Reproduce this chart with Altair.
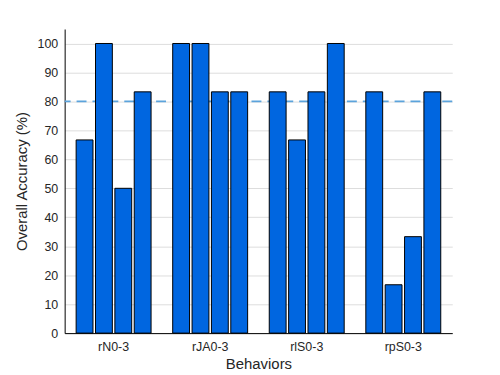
import altair as alt
import pandas as pd

groups = ["rN0-3", "rJA0-3", "rlS0-3", "rpS0-3"]
subjects = ["S0", "S1", "S2", "S3"]
values = [
    [66.7, 100, 50, 83.3],
    [100, 100, 83.3, 83.3],
    [83.3, 66.7, 83.3, 100],
    [83.3, 16.7, 33.3, 83.3],
]
threshold = [80]
yticks = [0, 10, 20, 30, 40, 50, 60, 70, 80, 90, 100]

rows = []
for g, vals in zip(groups, values):
    for s, v in zip(subjects, vals):
        rows.append({"Behavior": g, "Subject": s, "Accuracy": v})
df = pd.DataFrame(rows)

font = "Liberation Sans"
txt = "#262626"

yscale = alt.Scale(domain=[0, 105], nice=False)
yaxis = alt.Axis(title="Overall Accuracy (%)", values=yticks,
                 ticks=False, domainColor="black", gridColor="#dddddd",
                 labelFont=font, titleFont=font, labelFontSize=12.5, titleFontSize=15,
                 labelColor=txt, titleColor=txt, titleFontWeight="normal",
                 labelPadding=7, titlePadding=8, labelOverlap=False)
xaxis = alt.Axis(title="Behaviors", labelAngle=0, ticks=False, domainColor="black",
                 labelFont=font, titleFont=font, labelFontSize=12.5, titleFontSize=15,
                 labelColor=txt, titleColor=txt, titleFontWeight="normal",
                 labelPadding=7, titlePadding=4, grid=False)

bars = alt.Chart(df).mark_bar(color="#0066E0", stroke="black", strokeWidth=1).encode(
    x=alt.X("Behavior:N", sort=groups,
            scale=alt.Scale(paddingInner=0.224, paddingOuter=0.119),
            axis=xaxis),
    xOffset=alt.XOffset("Subject:N", scale=alt.Scale(paddingInner=0.13, paddingOuter=0.0)),
    y=alt.Y("Accuracy:Q", scale=yscale, axis=yaxis),
)

rule = alt.Chart(pd.DataFrame({"Accuracy": threshold})).mark_rule(
    color="#5BA3DC", strokeDash=[10, 6], strokeWidth=1.6
).encode(y=alt.Y("Accuracy:Q", scale=yscale, axis=yaxis))

chart = alt.layer(rule, bars).properties(
    width=390, height=306,
    background="white",
    autosize=alt.AutoSizeParams(type="none"),
    padding={"left": 57, "top": 20, "right": 40, "bottom": 40},
).configure_view(stroke=None)

chart.save("out.html", embed_options={"renderer": "svg", "actions": False})
